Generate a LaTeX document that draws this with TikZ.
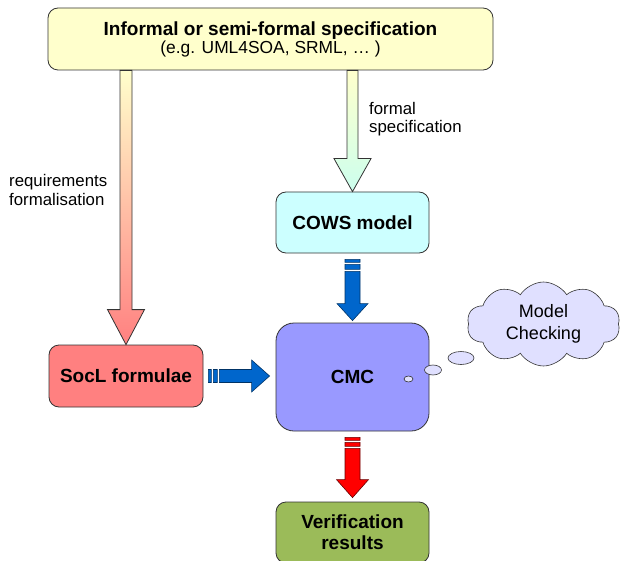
\documentclass[tikz,border=0pt]{standalone}
\usepackage{fontspec}
\setmainfont{Liberation Sans}
\usetikzlibrary{shapes.symbols,calc}

\definecolor{boxline}{HTML}{333333}
\definecolor{specfill}{HTML}{FFFFCC}
\definecolor{cowsfill}{HTML}{CCFFFF}
\definecolor{cmcfill}{HTML}{9999FF}
\definecolor{soclfill}{HTML}{FF8080}
\definecolor{veriffill}{HTML}{9BBB59}
\definecolor{cloudfill}{HTML}{E0E0FF}
\definecolor{mintfill}{HTML}{CCFFEE}
\definecolor{flowblue}{HTML}{0066CC}
\definecolor{flowblueline}{HTML}{003366}
\definecolor{flowred}{HTML}{FF0000}
\definecolor{flowredline}{HTML}{660000}

\begin{document}
\begin{tikzpicture}[x=1pt,y=-1pt,
  box/.style={draw=boxline, line width=0.8pt, rounded corners=10pt,
    font=\fontsize{19}{21}\selectfont\bfseries, align=center, inner sep=0pt},
  lbl/.style={font=\fontsize{16.8}{18.5}\selectfont, align=left, inner sep=0pt},
  gradarrow/.style={draw=boxline, line width=0.8pt, line join=miter},
  bluearrow/.style={fill=flowblue, draw=flowblueline, line width=0.6pt, line join=miter},
  redarrow/.style={fill=flowred, draw=flowredline, line width=0.6pt, line join=miter},
  thought/.style={fill=cloudfill, draw=boxline, line width=0.6pt},
]
\useasboundingbox (0,0) rectangle (620,561);

% boxes
\node[box, fill=specfill, minimum width=445pt, minimum height=62pt] (spec) at (270.5,39)
  {Informal or semi-formal specification\\[-3pt]{\fontsize{17.4}{19}\selectfont\mdseries (e.g. UML4SOA, SRML, … )}};
\node[box, fill=cowsfill, minimum width=153pt, minimum height=61pt] (cows) at (352.5,222.5) {COWS model};
\node[box, fill=cmcfill, rounded corners=18pt, minimum width=153pt, minimum height=108pt] (cmc) at (352.5,377) {CMC};
\node[box, fill=soclfill, minimum width=154pt, minimum height=62pt] (socl) at (126,376) {SocL formulae};
\node[box, fill=veriffill, minimum width=153pt, minimum height=61pt] (verif) at (352.5,532.5) {Verification\\results};

% gradient block arrows from the specification
\path[gradarrow, top color=specfill, bottom color=soclfill]
  let \p1=(spec.south -| socl.north), \p2=(socl.north) in
  (\x1-6pt,\y1) -- (\x1+6pt,\y1) -- (\x1+6pt,\y2+35pt) -- (\x1+18.5pt,\y2+35pt)
  -- (\x2,\y2) -- (\x1-18.5pt,\y2+35pt) -- (\x1-6pt,\y2+35pt) -- cycle;
\path[gradarrow, top color=specfill, bottom color=mintfill]
  let \p1=(spec.south -| cows.north), \p2=(cows.north) in
  (\x1-5.5pt,\y1) -- (\x1+5.5pt,\y1) -- (\x1+5.5pt,\y2+33pt) -- (\x1+18.5pt,\y2+33pt)
  -- (\x2,\y2) -- (\x1-18.5pt,\y2+33pt) -- (\x1-5.5pt,\y2+33pt) -- cycle;

% striped flow arrows
\path[bluearrow] let \p1=(cows.south), \p2=(cmc.north) in
  (\x1-7.5pt,\y1-6pt) rectangle (\x1+7.5pt,\y1-9pt)
  (\x1-7.5pt,\y1-11pt) rectangle (\x1+7.5pt,\y1-16pt)
  (\x1-7.5pt,\y1-18pt) -- (\x1+7.5pt,\y1-18pt) -- (\x1+7.5pt,\y2+19pt) -- (\x1+15.5pt,\y2+19pt)
  -- (\x2,\y2+2pt) -- (\x1-15.5pt,\y2+19pt) -- (\x1-7.5pt,\y2+19pt) -- cycle;
\path[bluearrow] let \p1=(socl.east), \p2=(cmc.west) in
  (\x1+5pt,\y1-6.5pt) rectangle (\x1+8pt,\y1+6.5pt)
  (\x1+10pt,\y1-6.5pt) rectangle (\x1+14pt,\y1+6.5pt)
  (\x1+16pt,\y1+6.5pt) -- (\x1+16pt,\y1-6.5pt) -- (\x2-24pt,\y1-6.5pt) -- (\x2-24pt,\y1-16pt)
  -- (\x2-6pt,\y1) -- (\x2-24pt,\y1+16pt) -- (\x2-24pt,\y1+6.5pt) -- cycle;
\path[redarrow] let \p1=(cmc.south), \p2=(verif.north) in
  (\x1-7.5pt,\y1-6pt) rectangle (\x1+7.5pt,\y1-9pt)
  (\x1-7.5pt,\y1-11pt) rectangle (\x1+7.5pt,\y1-15pt)
  (\x1-7.5pt,\y1-17pt) -- (\x1+7.5pt,\y1-17pt) -- (\x1+7.5pt,\y2+22pt) -- (\x1+16pt,\y2+22pt)
  -- (\x2,\y2+4pt) -- (\x1-16pt,\y2+22pt) -- (\x1-7.5pt,\y2+22pt) -- cycle;

% arrow labels
\node[lbl, anchor=west] (reqlbl) at (9,190) {requirements\\formalisation};
\node[lbl, anchor=west] (formlbl) at (369,119) {formal\\specification};

% thought cloud
\node[cloud, cloud puffs=10, cloud puff arc=115, aspect=1.8, thought,
  minimum width=153pt, minimum height=84pt, inner sep=0pt,
  font=\fontsize{18}{22}\selectfont, align=center] (mc) at (543.5,324) {Model\\Checking};
\path[thought] (461,358) ellipse [x radius=13, y radius=6.5];
\path[thought] (433,370) ellipse [x radius=8.5, y radius=5];
\path[thought] (408.5,379) ellipse [x radius=4.5, y radius=3];
\end{tikzpicture}
\end{document}
